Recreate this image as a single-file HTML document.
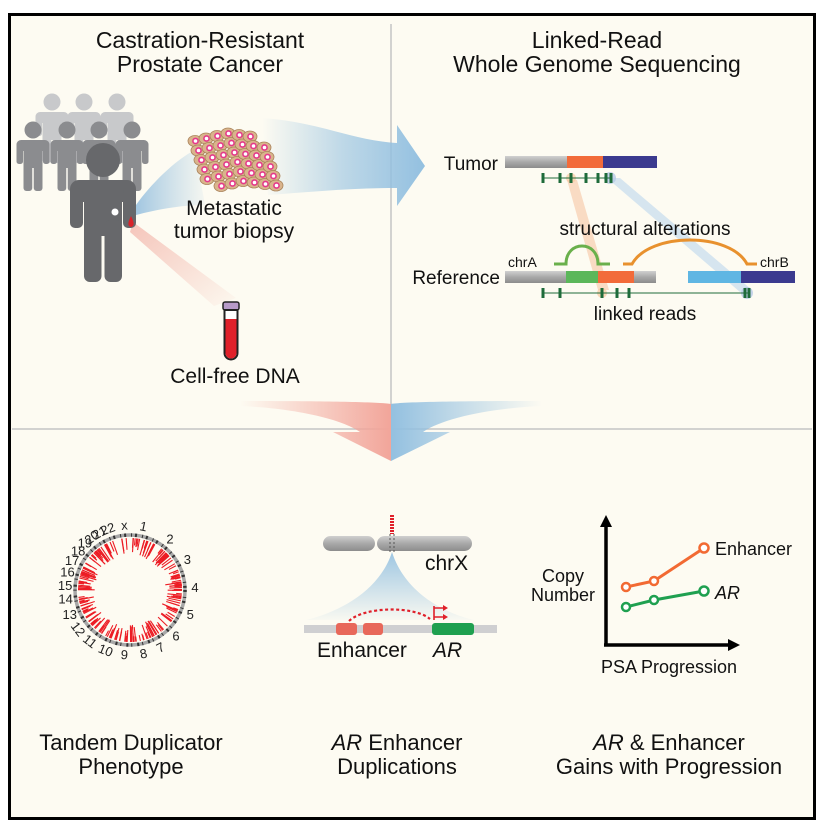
<!DOCTYPE html>
<html><head><meta charset="utf-8"><style>
html,body{margin:0;padding:0;background:#fff;}
svg{display:block;font-family:"Liberation Sans",Arial,sans-serif;}
</style></head><body>
<svg id="s" width="830" height="836" viewBox="0 0 830 836" xmlns="http://www.w3.org/2000/svg">
<defs>
<linearGradient id="blueArrow" x1="0" x2="1" y1="0" y2="0">
<stop offset="0" stop-color="#93c0e0" stop-opacity="0"/><stop offset="0.5" stop-color="#93c0e0" stop-opacity="0.6"/><stop offset="1" stop-color="#93c0e0"/></linearGradient>
<linearGradient id="blueFan" x1="0" x2="1"><stop offset="0" stop-color="#7fb2da" stop-opacity="0.9"/><stop offset="1" stop-color="#93c0e0" stop-opacity="0.1"/></linearGradient>
<linearGradient id="redFan" x1="0" y1="0" x2="1" y2="1"><stop offset="0" stop-color="#f0a59a" stop-opacity="0.9"/><stop offset="1" stop-color="#f0a59a" stop-opacity="0.05"/></linearGradient>
<linearGradient id="redDown" x1="0" x2="1"><stop offset="0" stop-color="#f2a59a" stop-opacity="0"/><stop offset="1" stop-color="#f2a59a"/></linearGradient>
<linearGradient id="blueDown" x1="1" x2="0"><stop offset="0" stop-color="#93c0e0" stop-opacity="0"/><stop offset="1" stop-color="#93c0e0"/></linearGradient>
<linearGradient id="chrFan" x1="0" y1="0" x2="0" y2="1"><stop offset="0" stop-color="#93c0e0"/><stop offset="1" stop-color="#93c0e0" stop-opacity="0.05"/></linearGradient>
<linearGradient id="gbar" x1="0" y1="0" x2="0" y2="1"><stop offset="0" stop-color="#d0d0d0"/><stop offset="0.5" stop-color="#a9a9a9"/><stop offset="1" stop-color="#8c8c8c"/></linearGradient>
</defs>
<rect x="0" y="0" width="830" height="836" fill="#fff"/>
<rect x="9.5" y="14.5" width="805" height="804" fill="#fdfbf2" stroke="#000" stroke-width="3"/>
<line x1="391" y1="24" x2="391" y2="429" stroke="#c4c4c4" stroke-width="1.5"/>
<line x1="12" y1="429" x2="812" y2="429" stroke="#c4c4c4" stroke-width="1.5"/>

<g font-size="23" text-anchor="middle" fill="#111">
<text x="200" y="48">Castration-Resistant</text><text x="200" y="72">Prostate Cancer</text>
<text x="597" y="48">Linked-Read</text><text x="597" y="72">Whole Genome Sequencing</text>
</g>

<path d="M262,118 C320,122 350,140 397,143 L397,125 L425,166 L397,206 L397,188 C350,188 310,192 268,195 Z" fill="url(#blueArrow)"/>
<path d="M136,205 C150,185 175,160 195,150 L205,205 C180,205 155,210 136,215 Z" fill="url(#blueFan)" opacity="0.8"/>
<path d="M133,222 L236,298 L214,306 L130,232 Z" fill="url(#redFan)" opacity="0.7"/>

<g id="people"></g>
<circle cx="115" cy="212" r="3.5" fill="#fff"/>
<path d="M131,216 C128,222 127,226 131,227 C135,226 134,222 131,216Z" fill="#d8232a"/>

<g id="cells"></g>
<g font-size="21" text-anchor="middle" fill="#111">
<text x="234" y="215">Metastatic</text><text x="234" y="238">tumor biopsy</text>
<text x="235" y="383">Cell-free DNA</text>
</g>
<rect x="223" y="302" width="16" height="8" rx="2" fill="#b79ac8" stroke="#222" stroke-width="1.5"/>
<path d="M224.5,310 V353 a6.5,6.5 0 0 0 13,0 V310 Z" fill="#fff" stroke="#222" stroke-width="2"/>
<path d="M225.5,319 V353 a5.5,5.5 0 0 0 11,0 V319 Z" fill="#e0202a"/>

<path d="M567,180 L577,180 L609,290 L598,290 Z" fill="#f6c7a3" opacity="0.6"/>
<path d="M607,178 L620,178 L752,290 L740,292 Z" fill="#c4dcee" opacity="0.7"/>
<g font-size="19" fill="#111">
<text x="498" y="170" text-anchor="end">Tumor</text>
<text x="500" y="284" text-anchor="end">Reference</text>
<text x="645" y="235" text-anchor="middle">structural alterations</text>
<text x="645" y="320" text-anchor="middle">linked reads</text>
</g>
<g font-size="14" fill="#111"><text x="508" y="267">chrA</text><text x="760" y="267">chrB</text></g>
<rect x="505" y="156" width="62" height="12" fill="url(#gbar)"/>
<rect x="567" y="156" width="36" height="12" fill="#f26b3a"/>
<rect x="603" y="156" width="54" height="12" fill="#3b3a8f"/>
<rect x="505" y="271" width="61" height="12" fill="url(#gbar)"/>
<rect x="566" y="271" width="32" height="12" fill="#5bb75a"/>
<rect x="598" y="271" width="36" height="12" fill="#f26b3a"/>
<rect x="634" y="271" width="22" height="12" fill="url(#gbar)"/>
<rect x="688" y="271" width="53" height="12" fill="#5fb6e3"/>
<rect x="741" y="271" width="54" height="12" fill="#3b3a8f"/>
<path d="M554,264 H566 C566,240 598,240 598,264 H610" fill="none" stroke="#6ab04c" stroke-width="3"/>
<path d="M623,264 H632 C650,232 730,232 747,264 H757" fill="none" stroke="#e8912e" stroke-width="3"/>
<circle cx="571" cy="178" r="5" fill="#f8c9a0" opacity="0.7"/>
<circle cx="610" cy="178" r="6" fill="#b7c9e6" opacity="0.8"/>
<circle cx="602" cy="293" r="5" fill="#f8c9a0" opacity="0.7"/>
<circle cx="747" cy="293" r="6" fill="#b7c9e6" opacity="0.8"/>
<g stroke="#1e6b3a">
<line x1="543" y1="178" x2="612" y2="178" stroke-width="1"/>
<g stroke-width="3"><line x1="543" y1="173" x2="543" y2="183"/><line x1="560" y1="173" x2="560" y2="183"/><line x1="571" y1="173" x2="571" y2="183"/><line x1="586" y1="173" x2="586" y2="183"/><line x1="598" y1="173" x2="598" y2="183"/><line x1="606" y1="173" x2="606" y2="183"/><line x1="611" y1="173" x2="611" y2="183"/></g>
<line x1="543" y1="293" x2="750" y2="293" stroke-width="1"/>
<g stroke-width="3"><line x1="543" y1="288" x2="543" y2="298"/><line x1="560" y1="288" x2="560" y2="298"/><line x1="602" y1="288" x2="602" y2="298"/><line x1="617" y1="288" x2="617" y2="298"/><line x1="629" y1="288" x2="629" y2="298"/><line x1="745" y1="288" x2="745" y2="298"/><line x1="749" y1="288" x2="749" y2="298"/></g>
</g>

<path d="M240,401 C320,401 380,402 391,404 L391,461 L333,432 L360,432 C340,418 290,408 240,406 Z" fill="url(#redDown)"/>
<path d="M542,401 C462,401 402,402 391,404 L391,461 L450,432 L423,432 C443,418 492,408 542,406 Z" fill="url(#blueDown)"/>

<g id="circos"></g>

<path d="M392,552 C380,590 340,612 306,620 L474,620 C440,612 404,590 392,552 Z" fill="url(#chrFan)" opacity="0.9"/>
<rect x="323" y="536" width="52" height="15" rx="7.5" fill="url(#gbar)"/>
<rect x="377" y="536" width="95" height="15" rx="7.5" fill="url(#gbar)"/>
<line x1="392" y1="515" x2="392" y2="534" stroke="#e0202a" stroke-width="4" stroke-dasharray="2,1"/>
<line x1="390" y1="534" x2="390" y2="552" stroke="#555" stroke-width="1" stroke-dasharray="2,2"/>
<line x1="394" y1="534" x2="394" y2="552" stroke="#555" stroke-width="1" stroke-dasharray="2,2"/>
<text x="425" y="570" font-size="21" fill="#111">chrX</text>
<rect x="304" y="625" width="193" height="8" fill="#cfcfd1"/>
<rect x="336" y="623" width="21" height="12" rx="3" fill="#e8685a"/>
<rect x="363" y="623" width="20" height="12" rx="3" fill="#e8685a"/>
<rect x="432" y="623" width="42" height="12" rx="3" fill="#1fa050"/>
<path d="M349,621 C365,606 415,606 430,619" fill="none" stroke="#e0202a" stroke-width="2.2" stroke-dasharray="3,2.5"/>
<path d="M434,620 V606 M434,608 H445 M434,617 H445" stroke="#e0202a" stroke-width="1.6" fill="none"/>
<path d="M443,605 L448,608 L443,611 Z M443,614 L448,617 L443,620 Z" fill="#e0202a"/>
<text x="317" y="657" font-size="21" fill="#111">Enhancer</text>
<text x="433" y="657" font-size="21" fill="#111" font-style="italic">AR</text>

<line x1="606" y1="524" x2="606" y2="646" stroke="#000" stroke-width="3.5"/>
<line x1="604" y1="645" x2="730" y2="645" stroke="#000" stroke-width="3.5"/>
<path d="M600,527 L606,515 L612,527 Z M728,639 L740,645 L728,651 Z" fill="#000"/>
<polyline points="626,587 654,581 704,548" fill="none" stroke="#f26a33" stroke-width="3"/>
<polyline points="626,607 654,600 704,591" fill="none" stroke="#1fa050" stroke-width="3"/>
<g fill="#fff" stroke-width="2.5">
<circle cx="626" cy="587" r="4" stroke="#f26a33"/><circle cx="654" cy="581" r="4" stroke="#f26a33"/><circle cx="704" cy="548" r="4.5" stroke="#f26a33"/>
<circle cx="626" cy="607" r="4" stroke="#1fa050"/><circle cx="654" cy="600" r="4" stroke="#1fa050"/><circle cx="704" cy="591" r="4.5" stroke="#1fa050"/>
</g>
<g font-size="18" fill="#111">
<text x="715" y="555">Enhancer</text>
<text x="715" y="599" font-style="italic">AR</text>
<text x="563" y="582" text-anchor="middle">Copy</text>
<text x="563" y="601" text-anchor="middle">Number</text>
<text x="669" y="673" text-anchor="middle">PSA Progression</text>
</g>

<g font-size="22" text-anchor="middle" fill="#111">
<text x="131" y="750">Tandem Duplicator</text><text x="131" y="774">Phenotype</text>
<text x="397" y="750"><tspan font-style="italic">AR</tspan> Enhancer</text><text x="397" y="774">Duplications</text>
<text x="669" y="750"><tspan font-style="italic">AR</tspan> &amp; Enhancer</text><text x="669" y="774">Gains with Progression</text>
</g>

<script>
var NS="http://www.w3.org/2000/svg";
function el(p,t,a){var e=document.createElementNS(NS,t);for(var k in a)e.setAttribute(k,a[k]);p.appendChild(e);return e;}
var pg=document.getElementById("people");
function person(cx,cy,s,col){
 var g=el(pg,"g",{transform:"translate("+cx+","+cy+") scale("+s+")",fill:col});
 el(g,"circle",{cx:0,cy:0,r:17});
 el(g,"rect",{x:-33,y:20,width:66,height:22,rx:9});
 el(g,"rect",{x:-33,y:28,width:13,height:40,rx:5});
 el(g,"rect",{x:20,y:28,width:13,height:40,rx:5});
 el(g,"rect",{x:-19,y:28,width:38,height:48});
 el(g,"rect",{x:-19,y:60,width:17.5,height:62,rx:6});
 el(g,"rect",{x:1.5,y:60,width:17.5,height:62,rx:6});
}
[[52,102],[84,102],[117,102]].forEach(function(p){person(p[0],p[1],0.5,"#c8c9cb");});
[[33,130],[67,130],[99,130],[132,130]].forEach(function(p){person(p[0],p[1],0.5,"#8b8c8f");});
person(103,160,1,"#67686b");
var cg=document.getElementById("cells");
var seed=7;function rnd(){seed=(seed*16807)%2147483647;return (seed-1)/2147483646;}
for(var i=0;i<7;i++)for(var j=0;j<6;j++){
 var x=195+i*11+j*3, y=135+j*9.5-i*2.5+ (i>3? (i-3)*4:0);
 if((i==0&&j==5)||(i==6&&j==0))continue;
 el(cg,"ellipse",{cx:x,cy:y+6,rx:7,ry:5.5,fill:"#d9b48c",stroke:"#a9835a","stroke-width":0.8});
 el(cg,"circle",{cx:x+0.5,cy:y+6,r:2.6,fill:"#fff",stroke:"#e5398a","stroke-width":1.6});
}
var cz=document.getElementById("circos");var CX=130,CY=590;
el(cz,"circle",{cx:CX,cy:CY,r:55,fill:"none",stroke:"#a8a8a8","stroke-width":3.5});
el(cz,"circle",{cx:CX,cy:CY,r:55,fill:"none",stroke:"#333","stroke-width":3.5,"stroke-dasharray":"2,5,1,3"});
var gaps=[[343,350],[326,330],[262,270],[-3,3]];
for(var k=0;k<240;k++){
 var a=rnd()*360, ok=true;
 gaps.forEach(function(g){if(a>=g[0]&&a<=g[1])ok=false;if(g[0]<0&&(a>=360+g[0]||a<=g[1]))ok=false;});
 if(!ok)continue;
 var r0=35+rnd()*12, r1=52, t=(a-90)*Math.PI/180;
 el(cz,"line",{x1:CX+r0*Math.cos(t),y1:CY+r0*Math.sin(t),x2:CX+r1*Math.cos(t),y2:CY+r1*Math.sin(t),stroke:"#ec1c24","stroke-width":1.1});
}
var labs=[["1",12],["2",38],["3",62],["4",88],["5",112],["6",135],["7",152],["8",168],["9",185],["10",202],["11",218],["12",233],["13",248],["14",262],["15",274],["16",286],["17",297],["18",307],["19",316],["20",324],["21",332],["22",340],["x",355]];
labs.forEach(function(l){var t=(l[1]-90)*Math.PI/180,r=65;var x=CX+r*Math.cos(t),y=CY+r*Math.sin(t);
 var rot=l[1]>150&&l[1]<240?l[1]-180:(l[1]<=20||l[1]>=320?l[1]:0);
 var tx=el(cz,"text",{x:x,y:y+4.5,"font-size":13,"text-anchor":"middle",fill:"#222",transform:"rotate("+rot+","+x+","+y+")"});tx.textContent=l[0];});
</script>
</svg>
</body></html>
